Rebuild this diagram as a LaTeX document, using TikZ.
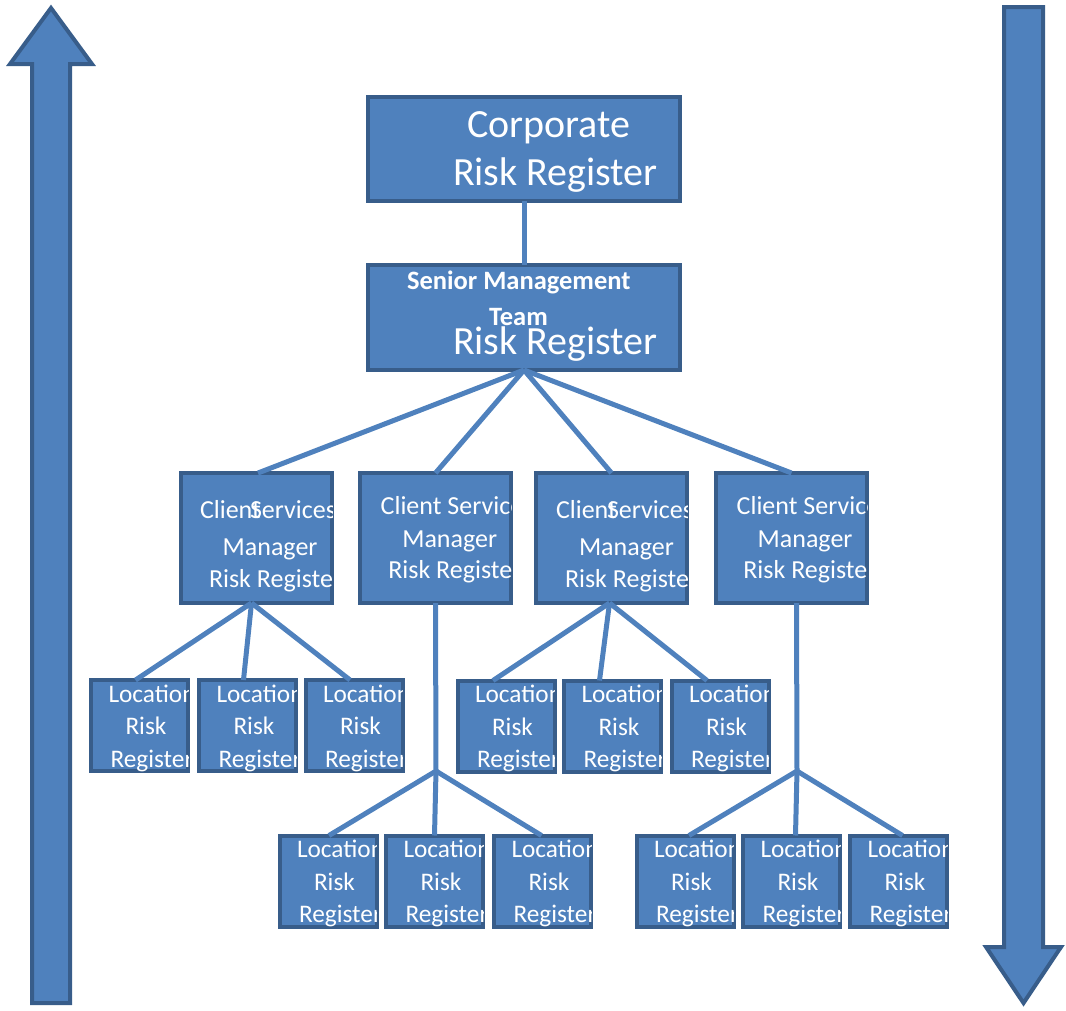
\documentclass[tikz,border=0pt]{standalone}
\usepackage{fontspec}
\setmainfont{Carlito}
\definecolor{bfill}{HTML}{4F81BD}
\definecolor{bline}{HTML}{385D8A}
\tikzset{
 box/.style={draw=bline, fill=bfill, line width=4pt, rectangle, inner sep=0pt, outer sep=0pt},
 txt/.style={anchor=base west, inner sep=0pt, outer sep=0pt, text=white},
 conn/.style={draw=bfill, line width=5pt},
 bigarrow/.style={draw=bline, fill=bfill, line width=4pt, line join=miter},
}
\newcommand\fbig{\fontsize{40}{47}\selectfont}
\newcommand\fmid{\fontsize{26}{30}\selectfont}
\newcommand\fsm{\fontsize{25.3}{30}\selectfont}
\newcommand\fbd{\fontsize{26.5}{30}\selectfont\bfseries}
\newcommand\bx[5]{\node[box, minimum width={(#4-#2-4)*1pt}, minimum height={(#5-#3-4)*1pt}] (#1) at ({(#2+#4)/2},{(#3+#5)/2}) {};}
\newcommand\clipto[1]{\clip (#1.north west) rectangle (#1.south east);}
\newcommand\loc[3]{%
 \bx{#1}{#2}{#3}{#2+101}{#3+95}
 \begin{scope}\clipto{#1}
 \node[txt,font=\fsm] (#1-a) at ({#2+19.5},{#3+24}) {Location};
 \node[txt,font=\fsm] (#1-b) at ({#2+36.5},{#3+56.5}) {Risk};
 \node[txt,font=\fsm] (#1-c) at ({#2+21.5},{#3+89}) {Register};
 \end{scope}}
\begin{document}
\begin{tikzpicture}[x=1pt,y=-1pt]
\useasboundingbox (0,0) rectangle (1066,1010);
% big arrows
\filldraw[bigarrow] (51,8) -- (92,64) -- (70,64) -- (70,1003) -- (32,1003) -- (32,64) -- (10,64) -- cycle;
\filldraw[bigarrow] (1004,7) -- (1043,7) -- (1043,947) -- (1061,947) -- (1023.5,1003) -- (986,947) -- (1004,947) -- cycle;
% top boxes
\bx{corp}{366}{95}{682}{203}
\begin{scope}\clipto{corp}
\node[txt,font=\fbig] (corp-a) at (467,137) {Corporate};
\node[txt,font=\fbig] (corp-b) at (453,185) {Risk Register};
\end{scope}
\bx{smt}{366}{263}{682}{372}
\begin{scope}\clipto{smt}
\node[txt,font=\fbd] (smt-a) at (407,289) {Senior Management};
\node[txt,font=\fbd] (smt-b) at (489,325) {Team};
\node[txt,font=\fbig] (smt-c) at (453,354) {Risk Register};
\end{scope}
% client services managers
\bx{cs1}{179}{471}{334}{605}
\begin{scope}\clipto{cs1}
\node[txt,font=\fmid] (cs1-a) at (200,518) {Client};
\node[txt,font=\fmid] (cs1-b) at (250,518) {Services};
\node[txt,font=\fmid] (cs1-c) at (222.7,555) {Manager};
\node[txt,font=\fmid] (cs1-d) at (209,587) {Risk Register};
\end{scope}
\bx{cs2}{358}{471}{513}{605}
\begin{scope}\clipto{cs2}
\node[txt,font=\fmid] (cs2-a) at (380.7,514) {Client Services};
\node[txt,font=\fmid] (cs2-c) at (402.3,547) {Manager};
\node[txt,font=\fmid] (cs2-d) at (388.3,578) {Risk Register};
\end{scope}
\bx{cs3}{534}{471}{689}{605}
\begin{scope}\clipto{cs3}
\node[txt,font=\fmid] (cs3-a) at (556,518) {Client};
\node[txt,font=\fmid] (cs3-b) at (607,518) {Services};
\node[txt,font=\fmid] (cs3-c) at (579,555) {Manager};
\node[txt,font=\fmid] (cs3-d) at (565,587) {Risk Register};
\end{scope}
\bx{cs4}{714}{471}{869}{605}
\begin{scope}\clipto{cs4}
\node[txt,font=\fmid] (cs4-a) at (736.7,514) {Client Services};
\node[txt,font=\fmid] (cs4-c) at (757.7,547) {Manager};
\node[txt,font=\fmid] (cs4-d) at (743.3,578) {Risk Register};
\end{scope}
% location boxes
\loc{l11}{89}{678}
\loc{l12}{197}{678}
\loc{l13}{303.5}{678}
\loc{l31}{455.5}{678.5}
\loc{l32}{562}{678.5}
\loc{l33}{669.5}{678.5}
\loc{l21}{277.5}{833.5}
\loc{l22}{384}{833.5}
\loc{l23}{492}{833.5}
\loc{l41}{634.5}{833.5}
\loc{l42}{741}{833.5}
\loc{l43}{848}{833.5}
% connectors
\coordinate (b2) at (436,771);
\coordinate (b4) at (797,771);
\draw[conn] (corp.south) -- (smt.north);
\draw[conn] (smt.south) -- ([xshift=1.5pt]cs1.north);
\draw[conn] (smt.south) -- (cs2.north);
\draw[conn] (smt.south) -- (cs3.north);
\draw[conn] (smt.south) -- (cs4.north);
\draw[conn] ([xshift=-5pt]cs1.south) -- ([xshift=-4pt]l11.north);
\draw[conn] ([xshift=-5pt]cs1.south) -- ([xshift=-4pt]l12.north);
\draw[conn] ([xshift=-5pt]cs1.south) -- ([xshift=-4pt]l13.north);
\draw[conn] ([xshift=-2pt]cs3.south) -- ([xshift=-13pt]l31.north);
\draw[conn] ([xshift=-2pt]cs3.south) -- ([xshift=-13pt]l32.north);
\draw[conn] ([xshift=-2pt]cs3.south) -- ([xshift=-13pt]l33.north);
\draw[conn] (cs2.south) -- (b2);
\draw[conn] (b2) -- ([xshift=1pt]l21.north);
\draw[conn] (b2) -- (l22.north);
\draw[conn] (b2) -- ([xshift=-1pt]l23.north);
\draw[conn] ([xshift=5pt]cs4.south) -- (b4);
\draw[conn] (b4) -- ([xshift=4pt]l41.north);
\draw[conn] (b4) -- ([xshift=4pt]l42.north);
\draw[conn] (b4) -- ([xshift=4pt]l43.north);
\end{tikzpicture}
\end{document}
